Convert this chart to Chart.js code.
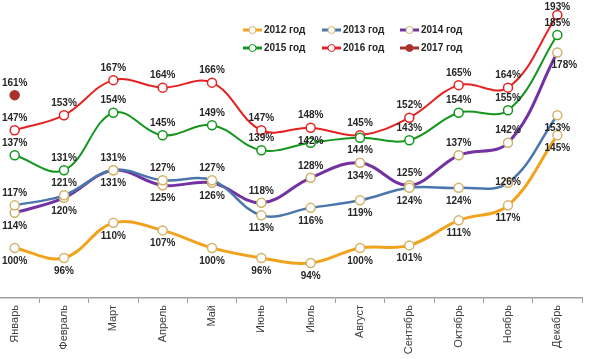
<!DOCTYPE html>
<html>
<head>
<meta charset="utf-8">
<script src="https://cdn.jsdelivr.net/npm/chart.js@4/dist/chart.umd.min.js"></script>
<style>
  html, body { margin: 0; padding: 0; background: #fff; overflow: hidden; }
  #wrap { position: absolute; left: -10px; top: 0; width: 606px; height: 359px; }
</style>
</head>
<body>
<div id="wrap"><canvas id="c"></canvas></div>
<script>
const months = ["Январь","Февраль","Март","Апрель","Май","Июнь","Июль","Август","Сентябрь","Октябрь","Ноябрь","Декабрь"];
const y2012 = [100, 96, 110, 107, 100, 96, 94, 100, 101, 111, 117, 145];
const y2013 = [117, 121, 131, 127, 127, 113, 116, 119, 124, 124, 126, 153];
const y2014 = [114, 120, 131, 125, 126, 118, 128, 134, 125, 137, 142, 178];
const y2015 = [137, 131, 154, 145, 149, 139, 142, 144, 143, 154, 155, 185];
const y2016 = [147, 153, 167, 164, 166, 147, 148, 145, 152, 165, 164, 193];
const y2017 = [161, null, null, null, null, null, null, null, null, null, null, null];
const seriesNames = ["2012 год","2013 год","2014 год","2015 год","2016 год","2017 год"];

// label placement: a = above, b = below, c = on point, r = below-right
const labelPlace = [
  "bbbbbbbbbbbb",
  "aaaaabbbbbcb",
  "bbbbbaabaaar",
  "aaaaaacbaaaa",
  "aaaaaaaaaaaa",
  "a"
];

const colors = ["#f2a21c", "#4a76ad", "#7232a2", "#14961e", "#e52222", "#a8322a"];
const markerBorders = ["#d2b56a", "#d2b56a", "#c9b16c", "#14961e", "#e52222", "#a8322a"];
const widths = [3, 2.5, 3, 2, 2, 2];

const allData = [y2012, y2013, y2014, y2015, y2016, y2017];

const datasets = allData.map((d, i) => ({
  label: seriesNames[i],
  data: d,
  borderColor: colors[i],
  backgroundColor: colors[i],
  borderWidth: widths[i],
  pointRadius: 4.5,
  pointBorderWidth: 1.5,
  pointBackgroundColor: i === 5 ? colors[i] : "#ffffff",
  pointBorderColor: markerBorders[i],
  tension: 0.38,
  clip: false,
  spanGaps: false
}));

const labelsPlugin = {
  id: "pctLabels",
  afterDatasetsDraw(chart) {
    const ctx = chart.ctx;
    ctx.save();
    ctx.font = "bold 10px 'Liberation Sans', Arial, sans-serif";
    ctx.fillStyle = "#262626";
    ctx.textAlign = "center";
    ctx.textBaseline = "middle";
    chart.data.datasets.forEach((ds, di) => {
      const meta = chart.getDatasetMeta(di);
      meta.data.forEach((pt, i) => {
        const v = ds.data[i];
        if (v === null || v === undefined) return;
        const place = labelPlace[di][i] || "a";
        let dx = 0, dy = -12;
        if (place === "b") dy = 13;
        else if (place === "c") dy = -1;
        else if (place === "r") { dy = 13; dx = 7; }
        const ty = Math.max(7, pt.y + dy);
        ctx.fillText(v + "%", pt.x + dx, ty);
      });
    });
    ctx.restore();
  }
};

const legendPlugin = {
  id: "customLegend",
  afterDraw(chart) {
    const ctx = chart.ctx;
    const cols = [253, 332, 410];
    const rows = [30, 48];
    ctx.save();
    ctx.font = "bold 10px 'Liberation Sans', Arial, sans-serif";
    ctx.textBaseline = "middle";
    ctx.textAlign = "left";
    chart.data.datasets.forEach((ds, i) => {
      const x = cols[i % 3];
      const y = rows[Math.floor(i / 3)];
      ctx.strokeStyle = ds.borderColor;
      ctx.lineWidth = 3;
      ctx.beginPath();
      ctx.moveTo(x, y);
      ctx.lineTo(x + 19, y);
      ctx.stroke();
      ctx.beginPath();
      ctx.arc(x + 9.5, y, 3.5, 0, Math.PI * 2);
      ctx.fillStyle = ds.pointBackgroundColor;
      ctx.fill();
      ctx.lineWidth = 1;
      ctx.strokeStyle = ds.pointBorderColor;
      ctx.stroke();
      ctx.fillStyle = "#262626";
      ctx.fillText(ds.label, x + 21, y + 0.5);
    });
    ctx.restore();
  }
};

new Chart(document.getElementById("c"), {
  type: "line",
  data: { labels: months, datasets },
  options: {
    responsive: true,
    maintainAspectRatio: false,
    animation: false,
    layout: { autoPadding: false, padding: { left: -5, right: 14, top: 0, bottom: 0 } },
    plugins: { legend: { display: false }, tooltip: { enabled: false } },
    scales: {
      y: { display: false, min: 80, max: 199 },
      x: {
        offset: true,
        border: { display: true, color: "#a0a0a0", width: 1.5 },
        grid: { display: true, drawOnChartArea: false, drawTicks: true, tickLength: 5, color: "#a0a0a0", lineWidth: 1, offset: true },
        ticks: {
          autoSkip: false,
          minRotation: 90,
          maxRotation: 90,
          padding: 2,
          color: "#404040",
          font: { family: "'Liberation Sans', Arial, sans-serif", size: 11 }
        },
        afterFit(scale) {
          scale.height = 61;
          scale.paddingLeft = 0;
          scale.paddingRight = 0;
        }
      }
    }
  },
  plugins: [labelsPlugin, legendPlugin]
});
</script>
</body>
</html>
